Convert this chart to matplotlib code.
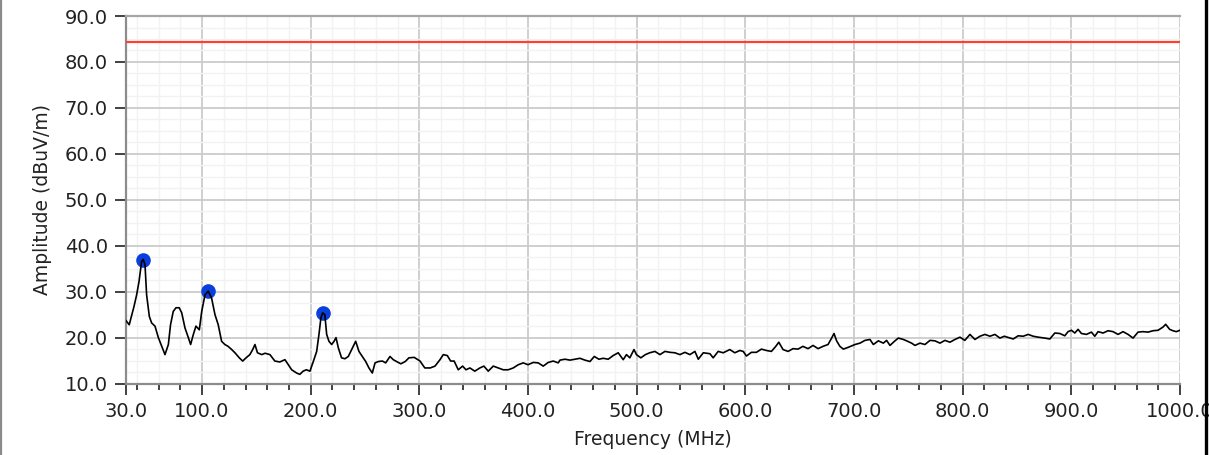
import numpy as np
import matplotlib
matplotlib.use("Agg")
import matplotlib.pyplot as plt
from matplotlib.lines import Line2D
from matplotlib.ticker import MultipleLocator, FixedLocator

freq_mhz = [
    30, 33, 35, 37.4, 39.8, 42, 44.4, 45.9, 47.5, 49, 51.5, 53.6, 56.7, 59.8,
    62.9, 65.9, 69, 71, 73.5, 76, 79, 81.3, 84.3, 87.4, 89.5, 92, 94.4, 97.5,
    99.7, 102.7, 105.7, 108.8, 111.9, 114.9, 118, 121, 124, 127.3, 130.3,
    134.3, 137.4, 140.5, 144, 146.6, 148.7, 151, 155, 158, 162.5, 167, 171.6,
    176.3, 179.4, 182.5, 187, 190, 193, 196, 199.3, 202.4, 205.5, 207.6,
    209.4, 211, 213, 214.7, 216.8, 219.3, 221.5, 223.3, 225.4, 228.4, 231.5,
    234.6, 237.7, 241.4, 244.4, 247.5, 250.6, 253.6, 256.7, 259.2, 262.3,
    266, 269, 273, 276, 279, 283, 287, 290.4, 295.3, 300.6, 305, 310, 314.4,
    319, 322, 325.7, 328.8, 332, 335.8, 339.8, 342.9, 346.5, 351, 355.7,
    359.4, 363.4, 368, 372.6, 377.2, 381.8, 386.4, 391, 395.6, 400, 404.8,
    409.4, 414, 418.6, 423.2, 427.8, 429.4, 434, 438.6, 443.2, 447.8, 452.4,
    457, 461, 465.2, 469.2, 473.8, 478.4, 483, 487.6, 490.6, 493.7, 497.5,
    499.8, 503.8, 508, 512, 516.8, 521.4, 526, 530.6, 535.2, 539.8, 544.4,
    549, 553.6, 556.7, 561.3, 567.4, 570.4, 575, 579.6, 585.7, 590.3, 594.9,
    598, 601, 605.6, 610.2, 614.8, 619.4, 624, 628, 630.8, 634.7, 639.3,
    643.9, 648.5, 653, 657.7, 662.3, 666.9, 671.5, 676.1, 679.4, 681.6, 684,
    687, 690.2, 694.8, 700.9, 705.5, 710.1, 714.7, 717.8, 722.4, 727, 730,
    733.1, 737.7, 740.8, 745.4, 748.4, 753, 756.1, 760.7, 765.3, 769.9,
    774.5, 779.1, 783.7, 788.3, 792.9, 797.5, 802, 806.7, 811.3, 815.9,
    820.5, 825.1, 829.7, 834.3, 838.3, 846.5, 851.1, 855.7, 860.3, 864.9,
    869.5, 875.6, 880.2, 884.8, 889.4, 894, 897, 900.1, 903.2, 906.2, 909.3,
    913.9, 918.5, 921.6, 924.6, 929.2, 933.8, 938.4, 943, 947.6, 952.2,
    956.8, 961.4, 966, 970.6, 975.2, 979.8, 984.4, 986.8, 990.5, 993.5,
    996.6, 1000,
]
amp_dbuv = [
    23.7, 22.8, 24.6, 26.8, 29.3, 32.2, 36.6, 37.0, 35.9, 29.3, 24.6, 23.2,
    22.5, 20.0, 18.1, 16.3, 18.5, 22.8, 25.7, 26.5, 26.5, 25.4, 22.1, 20.0,
    18.5, 20.7, 22.5, 21.7, 25.7, 29.3, 30.1, 28.6, 25.0, 22.8, 19.2, 18.5,
    18.1, 17.4, 16.7, 15.6, 14.9, 15.6, 16.3, 17.4, 18.5, 16.7, 16.3, 16.6,
    16.3, 14.9, 14.7, 15.2, 14.1, 13.0, 12.3, 12.0, 12.7, 13.0, 12.7, 14.8,
    17.0, 20.7, 24.3, 25.4, 25.0, 20.7, 19.2, 18.5, 19.2, 20.0, 17.8, 15.6,
    15.4, 15.9, 17.4, 19.2, 17.0, 15.9, 14.8, 13.4, 12.3, 14.5, 14.8, 14.9,
    14.5, 15.9, 15.2, 14.8, 14.3, 14.8, 15.6, 15.7, 14.9, 13.4, 13.4, 13.8,
    15.2, 16.3, 16.1, 14.9, 14.9, 13.0, 13.8, 13.0, 13.4, 12.7, 13.4, 13.8,
    12.7, 13.8, 13.4, 13.0, 13.0, 13.4, 14.1, 14.5, 14.1, 14.6, 14.5, 13.8,
    14.6, 14.9, 14.5, 15.1, 15.3, 15.1, 15.3, 15.5, 15.1, 14.8, 15.9, 15.3,
    15.5, 15.3, 16.1, 16.7, 15.2, 16.3, 15.6, 17.4, 16.3, 15.6, 16.3, 16.7,
    17.0, 16.3, 17.0, 16.8, 16.7, 16.3, 16.8, 16.3, 17.0, 15.3, 16.7, 16.5,
    15.6, 17.0, 16.7, 17.4, 16.7, 17.2, 17.0, 16.0, 16.8, 16.8, 17.5, 17.2,
    17.0, 18.1, 19.0, 17.4, 17.0, 17.6, 17.5, 18.1, 17.6, 18.3, 17.6, 18.1,
    18.5, 19.9, 20.9, 19.3, 18.1, 17.5, 17.9, 18.5, 18.8, 19.4, 19.6, 18.5,
    19.3, 18.8, 19.4, 18.3, 19.3, 19.9, 19.6, 19.3, 18.8, 18.3, 18.8, 18.5,
    19.4, 19.3, 18.8, 19.4, 19.0, 19.6, 20.1, 19.4, 20.7, 19.6, 20.3, 20.7,
    20.3, 20.7, 19.9, 20.3, 19.7, 20.4, 20.3, 20.7, 20.3, 20.1, 19.9, 19.7,
    21.0, 20.9, 20.4, 21.3, 21.6, 21.0, 21.8, 20.9, 20.7, 21.2, 20.3, 21.3,
    21.0, 21.5, 21.3, 20.7, 21.3, 20.7, 19.9, 21.2, 21.3, 21.2, 21.5, 21.6,
    22.3, 22.9, 21.8, 21.5, 21.3, 21.6,
]

# peaks marked in blue
peak_freq = [45.9, 105.7, 211]
peak_amp = [37.0, 30.1, 25.4]

limit_dbuv = 84.3

x_major = [30, 100, 200, 300, 400, 500, 600, 700, 800, 900, 1000]
x_minor = [f for f in range(40, 1000, 20) if f not in x_major]

fig = plt.figure(figsize=(12.09, 4.55), dpi=100)
ax = fig.add_axes([0.1042, 0.157, 0.8718, 0.8078])

ax.set_xlim(30, 1000)
ax.set_ylim(10, 90)

# grid
ax.xaxis.set_major_locator(FixedLocator(x_major))
ax.xaxis.set_minor_locator(FixedLocator(x_minor))
ax.yaxis.set_major_locator(MultipleLocator(10))
ax.yaxis.set_minor_locator(MultipleLocator(2.5))
ax.grid(which="major", color="#cbcbcb", lw=1.3)
ax.grid(which="minor", color="#f2f2f2", lw=1.0)
ax.set_axisbelow(True)

ax.axhline(limit_dbuv, color="#ff4030", lw=1.6, zorder=3)
ax.plot(peak_freq, peak_amp, "o", color="#0b3fdc", ms=9.5, mec="#0b3fdc", zorder=4)
ax.plot(freq_mhz, amp_dbuv, color="black", lw=1.2, zorder=5)

ax.set_xticks(x_major)
ax.set_xticklabels([f"{v:.1f}" for v in x_major])
ax.set_yticks(np.arange(10, 91, 10))
ax.set_yticklabels([f"{v:.1f}" for v in np.arange(10, 91, 10)])

ax.tick_params(axis="y", which="major", direction="out", length=8, width=1.3,
               color="#333333", pad=5, labelsize=14, labelcolor="#222222")
ax.tick_params(axis="y", which="minor", length=0)
ax.tick_params(axis="x", which="major", direction="out", length=8, width=1.3,
               color="#333333", pad=5, labelsize=14, labelcolor="#222222")
ax.tick_params(axis="x", which="minor", direction="out", length=4.5, width=1.3,
               color="#333333")

for s in ("left", "bottom"):
    ax.spines[s].set_color("#8c8c8c")
    ax.spines[s].set_linewidth(1.6)
ax.spines["top"].set_color("#a6a6a6")
ax.spines["top"].set_linewidth(1.6)
ax.spines["right"].set_visible(False)

ax.set_xlabel("Frequency (MHz)", fontsize=13.5, color="#222222")
ax.set_ylabel("Amplitude (dBuV/m)", fontsize=13.5, color="#222222")
ax.xaxis.set_label_coords(0.5, -0.125)
ax.yaxis.set_label_coords(-0.070, 0.5)

# panel edges
fig.add_artist(Line2D([0.0012, 0.0012], [0, 1], color="#8a8a8a", lw=1.6,
                      transform=fig.transFigure))
fig.add_artist(Line2D([0.9975, 0.9975], [0, 1], color="black", lw=2.4,
                      transform=fig.transFigure))

fig.savefig("out.png", dpi=100)
